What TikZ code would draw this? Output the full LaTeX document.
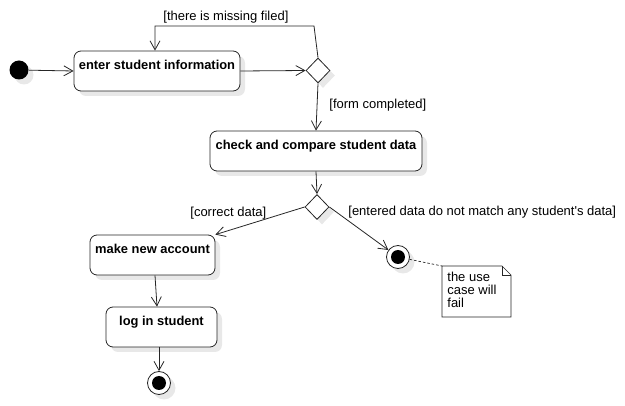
\documentclass[tikz,border=0pt]{standalone}
\usepackage{fontspec}
\setmainfont{Liberation Sans}
\usetikzlibrary{arrows.meta,shapes.geometric,shadows}
\begin{document}
\begin{tikzpicture}[x=1pt,y=-1pt,
  line width=0.8pt,
  every node/.style={font=\fontsize{13}{13}\selectfont},
  shade/.style={drop shadow={shadow xshift=5pt,shadow yshift=-5pt,fill=black!9,opacity=1}},
  action/.style={draw=black!85,rounded corners=7pt,fill=white,shade,
    inner xsep=3pt,inner ysep=3pt,text height=16pt,text depth=18pt,
    font=\fontsize{12.9}{13}\selectfont\bfseries},
  decision/.style={diamond,draw=black!85,fill=white,shade,inner sep=0pt,
    minimum width=24pt,minimum height=25pt},
  initial/.style={circle,fill=black,inner sep=0pt,minimum size=19pt,shade},
  final/.style={circle,draw=black!85,fill=white,inner sep=0pt,minimum size=23pt,shade},
  flow/.style={draw=black!85,-{Straight Barb[length=9pt,width=10pt]}},
  guard/.style={inner sep=0pt,anchor=base west},
]
\useasboundingbox (0,0) rectangle (625,406);

% states
\node[initial] (start) at (19,70) {};
\node[action,minimum width=166pt] (enter) at (157,71) {enter student information};
\node[decision] (d1) at (318,70.5) {};
\node[action,minimum width=212pt] (check) at (316,151) {check and compare student data};
\node[decision] (d2) at (317,207) {};
\node[action,minimum width=125pt] (make) at (152.5,255) {make new account};
\node[action,minimum width=111pt] (login) at (161.5,327) {log in student};
\node[final] (fail) at (398,257) {};
\fill (fail.center) circle (7);
\node[final] (done) at (159,383) {};
\fill (done.center) circle (7);

% note attached to the failure end: outline with folded corner, then its text
\coordinate (nTL) at (442,266);
\draw[black!85,line width=0.7pt,fill=white] (nTL) -- (502,266) -- (511,275) -- (511,317) -- (442,317) -- cycle;
\draw[black!85,line width=0.7pt] (502,266) -- (502,275) -- (511,275);
\node[align=left,anchor=north west,inner sep=0pt,
  font=\fontsize{13}{12.7}\selectfont] (note) at (447,272) {the use\\case will\\fail};

% guards
\node[guard] (gMiss) at (163,21) {[there is missing filed]};
\node[guard] (gForm) at (329,109) {[form completed]};
\node[guard] (gOk) at (190,217) {[correct data]};
\node[guard] (gBad) at (348,216) {[entered data do not match any student\textquotesingle s data]};

% control flow
\coordinate (loopR) at (314,26);
\draw[flow] (start) -- (enter.west);
\draw[flow] (enter.east) -- (d1.west);
\draw[flow] (d1.north) -- (loopR) -| ([xshift=-2pt]enter.north);
\draw[flow] (d1.south) -- (check.north);
\draw[flow] (check.south) -- (d2.north);
\draw[flow] (d2.west) -- (make.north east);
\draw[flow] (d2.east) -- (fail);
\draw[flow] ([xshift=2.5pt]make.south) -- ([xshift=-4.5pt]login.north);
\draw[flow] (login.south -| done) -- (done);
\draw[black!85,line width=0.7pt,dashed,dash pattern=on 2.5pt off 2pt] (fail) -- (nTL);
\end{tikzpicture}
\end{document}
